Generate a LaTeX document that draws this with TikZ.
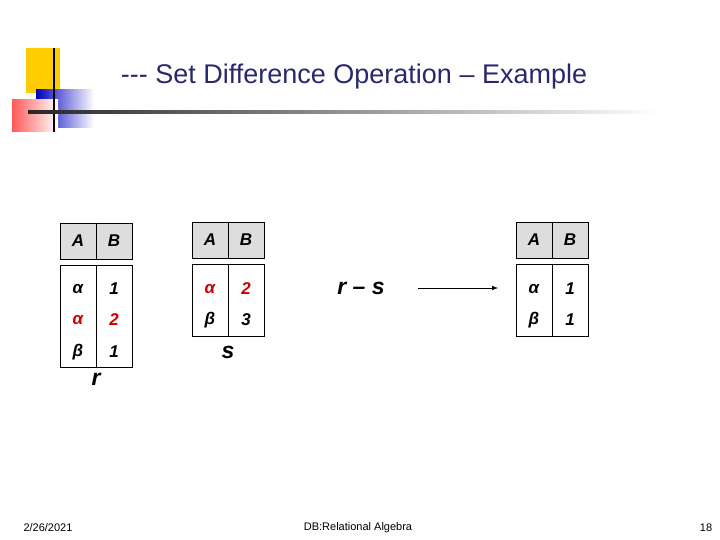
\documentclass[tikz,border=0pt]{standalone}
\usepackage{fontspec}
\setmainfont{Liberation Sans}
\usetikzlibrary{positioning,arrows,calc}
\definecolor{titleblue}{RGB}{40,40,110}
\definecolor{hdrgray}{RGB}{221,221,221}
\definecolor{valred}{RGB}{204,0,0}
\definecolor{logoyellow}{RGB}{255,204,0}
\begin{document}
\begin{tikzpicture}[x=1pt,y=-1pt,
hdr/.style={
  draw,
  fill=hdrgray,
  minimum width=72pt,
  minimum height=36pt,
  inner sep=0pt
},
body/.style={
  draw,
  minimum width=72pt,
  inner sep=0pt
},
cell/.style={
  font=\bfseries\itshape\fontsize{17}{17}\selectfont
},
big/.style={
  font=\bfseries\itshape\fontsize{23}{23}\selectfont
},
foot/.style={
  font=\fontsize{11}{11}\selectfont
}
]
\useasboundingbox (0,0) rectangle (720,540);
% logo
\fill[logoyellow] (26,48) rectangle (60,93);
\shade[left color=blue!75!black,right color=white] (36,90) rectangle (94,128);
\shade[left color=red!65,right color=white] (12,100) rectangle (58,132);
\draw[line width=2.5pt] (54,48) -- (54,132);
\shade[left color=black!85,right color=white] (28,110.5) rectangle (660,113.5);
\node[text=titleblue,font=\fontsize{27}{27}\selectfont] (title) at (354,77) {-{}-{}- Set Difference Operation – Example};
% table r
\node[hdr] (rh) at (96,241) {};
\node[body,minimum height=102pt] (rb) at (96,316) {};
\draw (rh.north) -- (rh.south) (rb.north) -- (rb.south);
\node[cell] at (78,241) {A};
\node[cell] at (114,241) {B};
\node[cell] at (78,289) {α};
\node[cell] at (114,289) {1};
\node[cell,text=valred] at (78,320) {α};
\node[cell,text=valred] at (114,320) {2};
\node[cell] at (78,352) {β};
\node[cell] at (114,352) {1};
\node[big,below=2pt of rb] (r) {r};
% table s
\node[hdr] (sh) at (228,240) {};
\node[body,minimum height=72pt] (sb) at (228,300) {};
\draw (sh.north) -- (sh.south) (sb.north) -- (sb.south);
\node[cell] at (210,240) {A};
\node[cell] at (246,240) {B};
\node[cell,text=valred] at (210,289) {α};
\node[cell,text=valred] at (246,289) {2};
\node[cell] at (210,320) {β};
\node[cell] at (246,320) {3};
\node[big,below=6pt of sb] (s) {s};
% result
\node[big] (rs) at (361,288) {r – s};
\node[hdr] (th) at (552,240) {};
\node[body,minimum height=72pt] (tb) at (552,300) {};
\draw (th.north) -- (th.south) (tb.north) -- (tb.south);
\node[cell] at (534,240) {A};
\node[cell] at (570,240) {B};
\node[cell] at (534,289) {α};
\node[cell] at (570,289) {1};
\node[cell] at (534,320) {β};
\node[cell] at (570,320) {1};
\coordinate (tip) at (498,288);
\draw[-latex,line width=1pt] ($(rs.east)+(30,0)$) -- (tip);
% footer
\node[foot] (date) at (48,528) {2/26/2021};
\node[foot] (course) at (358,528) {DB:Relational Algebra};
\node[foot] (page) at (706,528) {18};
\end{tikzpicture}
\end{document}
